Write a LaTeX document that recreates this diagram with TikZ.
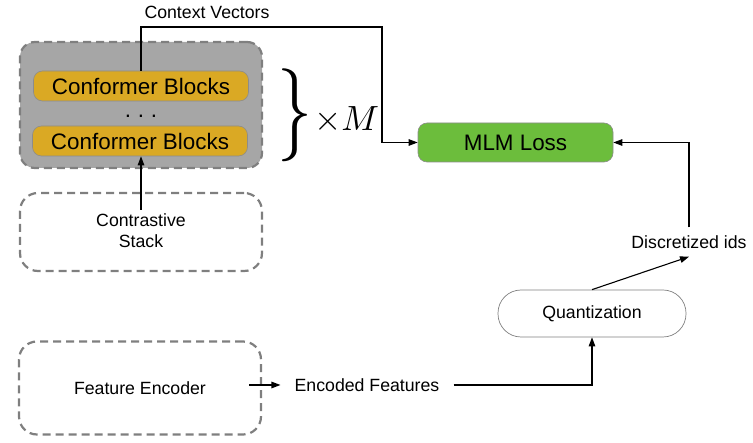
\documentclass[tikz,border=0pt]{standalone}
\usepackage{fontspec}
\setmainfont{Liberation Sans}
\usetikzlibrary{arrows.meta}
\definecolor{graybg}{HTML}{A6A6A6}
\definecolor{dashgray}{HTML}{7F7F7F}
\definecolor{confgold}{HTML}{DAA924}
\definecolor{mlmgreen}{HTML}{6CBD3C}
\begin{document}
\begin{tikzpicture}[x=1pt,y=-1pt,
  small/.style={font=\fontsize{17.7}{21}\selectfont},
  big/.style={font=\fontsize{22.4}{26}\selectfont},
  dashbox/.style={draw=dashgray, line width=2.2pt, dash pattern=on 8pt off 5pt,
    rounded corners=18pt, minimum width=242pt, inner sep=0pt},
  conf/.style={draw=black!45, line width=0.6pt, fill=confgold, rounded corners=9pt,
    minimum width=215pt, minimum height=30pt, inner sep=0pt, big},
  conn/.style={line width=1.1pt, -{Triangle[length=9pt,width=6.5pt]}},
]
\useasboundingbox (0,0) rectangle (753,443);
% stack of conformer blocks
\node[dashbox, fill=graybg, minimum height=126pt, rounded corners=15pt] (stack) at (141,105) {};
\node[conf] (cb1) at (141,86) {Conformer Blocks};
\node[conf] (cb2) at (140,141) {Conformer Blocks};
\node[big, inner sep=0pt] (dots) at (141,116) {.\hspace{0.3em}.\hspace{0.3em}.};
% brace and times M
\node[inner sep=0pt] (brace) at (294.5,115.5) {\resizebox*{35pt}{93pt}{$\}$}};
\node[anchor=west, inner sep=0pt] (xm) at (314,120) {\scalebox{3.5}{$\times M$}};
% contrastive stack
\node[dashbox, minimum height=78pt] (csbox) at (141,232) {};
\node[small, align=center, inner sep=4pt] (cs) at (141,231) {Contrastive\\Stack};
\draw[conn] (cs.north) -- (cs.north |- cb2.south);
% feature encoder
\node[dashbox, minimum height=93pt, small] (fe) at (140,388) {Feature Encoder};
\node[small, inner xsep=14pt] (enc) at (367,385) {Encoded Features};
\draw[conn] ([xshift=-13pt]fe.east |- enc.west) -- (enc.west);
% quantization
\node[draw=black!50, line width=0.7pt, rounded corners=23pt, minimum width=188pt,
  minimum height=47pt, small] (quant) at (592,313.5) {Quantization};
\draw[conn] (enc.east) -| (quant.south);
% discretized ids
\node[small, inner xsep=4pt, inner ysep=8pt] (disc) at (689,242) {Discretized ids};
\draw[conn] (quant.north) -- (disc.south);
% MLM loss
\node[draw=black!45, line width=0.6pt, fill=mlmgreen, rounded corners=9pt,
  minimum width=195pt, minimum height=39pt, big] (mlm) at (515.5,142.5) {MLM Loss};
\draw[conn] (disc.north) |- (mlm.east);
% context vectors
\node[small] (ctx) at (207,12) {Context Vectors};
\coordinate (ctxcorner) at (382,27);
\draw[conn] (cb1.north) |- (ctxcorner) |- (mlm.west);
\end{tikzpicture}
\end{document}
